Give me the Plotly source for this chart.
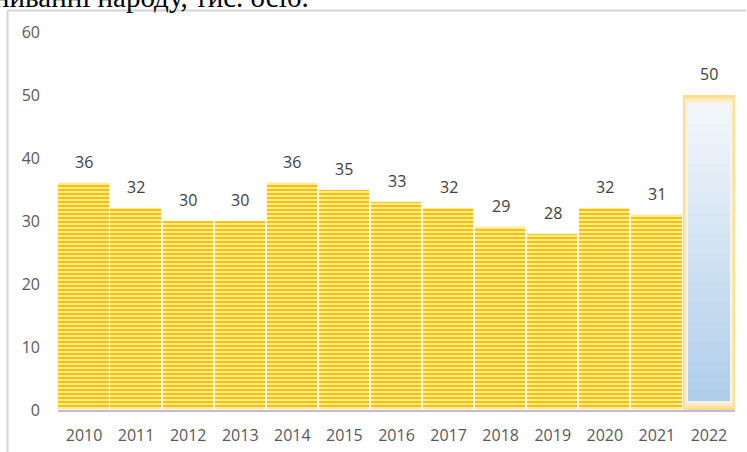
import plotly.graph_objects as go

# Annual values, thousand persons
years = ["2010", "2011", "2012", "2013", "2014", "2015", "2016",
         "2017", "2018", "2019", "2020", "2021", "2022"]
values = [36, 32, 30, 30, 36, 35, 33, 32, 29, 28, 32, 31, 50]
y_ticks = [0, 10, 20, 30, 40, 50, 60]

W, H = 747, 452
M_L, M_R, M_T, M_B = 58, 12, 32, 42
plot_w = W - M_L - M_R
plot_h = H - M_T - M_B

hist_years, hist_vals = years[:-1], values[:-1]
last_year, last_val = years[-1], values[-1]

fig = go.Figure()

# Striped gold bars for 2010-2021
fig.add_trace(go.Bar(
    x=hist_years, y=hist_vals, width=0.985,
    marker=dict(
        color="#FFE27A",
        line=dict(color="#FFFFFF", width=0.8),
        pattern=dict(shape="-", fgcolor="#F6C200", bgcolor="#FFE996",
                     size=4, solidity=0.5, fillmode="replace"),
    ),
    hoverinfo="skip", showlegend=False,
))

# 2022: soft gold rim fading into a pale blue body
glow_layers = [
    (0.985, "#FADD88"),
    (0.95, "#FBE3A0"),
    (0.91, "#FCEBBD"),
    (0.87, "#FBF1DA"),
    (0.83, "#F4F4F0"),
]
for i, (w, c) in enumerate(glow_layers):
    inset = i * 0.3
    fig.add_trace(go.Bar(
        x=[last_year], y=[last_val - 2 * inset], base=[inset], width=w,
        marker=dict(color=c, line=dict(width=0)),
        hoverinfo="skip", showlegend=False,
    ))

# vertical white-to-blue body gradient, stacked slices of the same bar
body_top = last_val - 1.5
body_bottom = 1.5
n_slices = 30
top_rgb = (242, 246, 251)
bot_rgb = (176, 206, 234)
seg = (body_top - body_bottom) / n_slices
for k in range(n_slices):
    f = k / (n_slices - 1)
    r = round(bot_rgb[0] + (top_rgb[0] - bot_rgb[0]) * f)
    g = round(bot_rgb[1] + (top_rgb[1] - bot_rgb[1]) * f)
    b = round(bot_rgb[2] + (top_rgb[2] - bot_rgb[2]) * f)
    fig.add_trace(go.Bar(
        x=[last_year], y=[seg * 1.05], base=[body_bottom + k * seg], width=0.79,
        marker=dict(color=f"rgb({r},{g},{b})", line=dict(width=0)),
        hoverinfo="skip", showlegend=False,
    ))

# Value labels above every bar (category positions by index)
for i, v in enumerate(values):
    fig.add_annotation(
        x=i, y=v, text=str(v), showarrow=False,
        yanchor="bottom", yshift=8,
        font=dict(family="Open Sans, Noto Sans, sans-serif", size=16, color="#404040"),
    )

# Caption line above the chart frame (partly outside the page)
fig.add_annotation(
    xref="paper", yref="paper",
    x=(-8 - M_L) / plot_w, y=1 + (M_T + 3) / plot_h,
    xanchor="left", yanchor="middle",
    text="ниванні народу, тис. осіб.", showarrow=False,
    font=dict(family="Liberation Serif, Times New Roman, serif", size=29, color="#000000"),
)

# Chart frame: top and left edges
fx0 = (7.5 - M_L) / plot_w
fy_top = 1 + (M_T - 10.5) / plot_h
fig.add_shape(type="line", xref="paper", yref="paper",
              x0=fx0, x1=(W - 1 - M_L) / plot_w, y0=fy_top, y1=fy_top,
              line=dict(color="#D4D4D4", width=2))
fig.add_shape(type="line", xref="paper", yref="paper",
              x0=fx0, x1=fx0, y0=fy_top, y1=-M_B / plot_h - 0.01,
              line=dict(color="#D4D4D4", width=2))

fig.update_layout(
    width=W, height=H,
    margin=dict(l=M_L, r=M_R, t=M_T, b=M_B),
    paper_bgcolor="#FFFFFF", plot_bgcolor="#FFFFFF",
    barmode="overlay", bargap=0.0,
    font=dict(family="Open Sans, Noto Sans, sans-serif", size=16, color="#595959"),
    xaxis=dict(
        type="category", categoryorder="array", categoryarray=years,
        range=[-0.5, len(years) - 0.5], automargin=False,
        showgrid=False, zeroline=False,
        showline=True, linecolor="#C3BADF", linewidth=2,
        ticks="", tickfont=dict(size=16, color="#595959"),
        ticklabelstandoff=10,
    ),
    yaxis=dict(
        range=[0, 60], tickvals=y_ticks, automargin=False,
        showgrid=False, zeroline=False, showline=False,
        ticks="", tickfont=dict(size=16, color="#595959"),
        ticklabelstandoff=17,
    ),
)

fig.write_html("out.html")
